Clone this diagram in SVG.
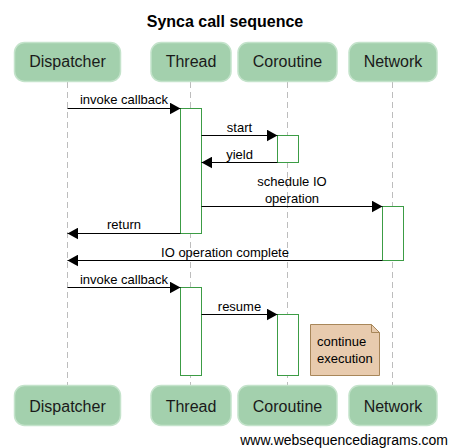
<svg xmlns="http://www.w3.org/2000/svg" width="449" height="448" viewBox="0 0 449 448">
<defs>
<style>
.actor rect{fill:#a3d0ad;stroke:#c4e3cb;stroke-width:1.5}
.actor text{font-family:"Liberation Sans",Arial,sans-serif;font-size:16px;fill:#1a1a1a;text-anchor:middle}
.life{stroke:#bdbdbd;stroke-width:1;stroke-dasharray:6,4;fill:none}
.act{fill:#ffffff;stroke:#3c9c45;stroke-width:1}
.msg{stroke:#000;stroke-width:1;fill:none;marker-end:url(#arr)}
.lbl{font-family:"Liberation Sans",Arial,sans-serif;font-size:13px;fill:#000;text-anchor:middle}
.note{fill:#e8cbae;stroke:#a8875a;stroke-width:1}
.ntxt{font-family:"Liberation Sans",Arial,sans-serif;font-size:13px;fill:#000}
</style>
<marker id="arr" markerUnits="userSpaceOnUse" markerWidth="11" markerHeight="12" viewBox="0 0 10 11" refX="10" refY="5.5" orient="auto">
<path d="M0,0 L10,5.5 L0,11 z" fill="#000"/>
</marker>
</defs>
<rect width="449" height="448" fill="#ffffff"/>
<text x="225" y="27" font-family="Liberation Sans,Arial,sans-serif" font-size="16" font-weight="bold" text-anchor="middle" fill="#000">Synca call sequence</text>
<g id="lifelines">
<line class="life" x1="67.5" y1="82" x2="67.5" y2="385"/>
<line class="life" x1="190.5" y1="82" x2="190.5" y2="385"/>
<line class="life" x1="287.5" y1="82" x2="287.5" y2="385"/>
<line class="life" x1="392.5" y1="82" x2="392.5" y2="385"/>
</g>
<g id="Dispatcher" class="actor">
<rect x="14.5" y="42.5" width="106" height="39" rx="10"/>
<text x="67.5" y="66.8">Dispatcher</text>
<rect x="14.5" y="385.5" width="106" height="40" rx="10"/>
<text x="67.5" y="411.5">Dispatcher</text>
</g>
<g id="Thread" class="actor">
<rect x="151" y="42.5" width="80" height="39" rx="10"/>
<text x="191" y="66.8">Thread</text>
<rect x="151" y="385.5" width="80" height="40" rx="10"/>
<text x="191" y="411.5">Thread</text>
</g>
<g id="Coroutine" class="actor">
<rect x="238" y="42.5" width="99" height="39" rx="10"/>
<text x="287.5" y="66.8">Coroutine</text>
<rect x="238" y="385.5" width="99" height="40" rx="10"/>
<text x="287.5" y="411.5">Coroutine</text>
</g>
<g id="Network" class="actor">
<rect x="349" y="42.5" width="88" height="39" rx="10"/>
<text x="393" y="66.8">Network</text>
<rect x="349" y="385.5" width="88" height="40" rx="10"/>
<text x="393" y="411.5">Network</text>
</g>
<g id="activations">
<rect class="act" x="180.5" y="108.5" width="21" height="125"/>
<rect class="act" x="277.5" y="135.5" width="21" height="27"/>
<rect class="act" x="382.5" y="206.5" width="21" height="54"/>
<rect class="act" x="180.5" y="287.5" width="21" height="88"/>
<rect class="act" x="277.5" y="314.5" width="21" height="61"/>
</g>
<g id="connectors">
<line class="msg" x1="67.5" y1="108.5" x2="180.5" y2="108.5"/>
<text class="lbl" x="124" y="104">invoke callback</text>
<line class="msg" x1="201.5" y1="135.5" x2="277.5" y2="135.5"/>
<text class="lbl" x="239.5" y="132">start</text>
<line class="msg" x1="277.5" y1="162.5" x2="201.5" y2="162.5"/>
<text class="lbl" x="239.5" y="159">yield</text>
<line class="msg" x1="201.5" y1="206.5" x2="382.5" y2="206.5"/>
<text class="lbl" x="292" y="185.5">schedule IO</text>
<text class="lbl" x="292" y="202.5">operation</text>
<line class="msg" x1="180.5" y1="233.5" x2="67.5" y2="233.5"/>
<text class="lbl" x="124" y="229">return</text>
<line class="msg" x1="382.5" y1="260.5" x2="67.5" y2="260.5"/>
<text class="lbl" x="225" y="256.5">IO operation complete</text>
<line class="msg" x1="67.5" y1="287.5" x2="180.5" y2="287.5"/>
<text class="lbl" x="124" y="283.5">invoke callback</text>
<line class="msg" x1="201.5" y1="314.5" x2="277.5" y2="314.5"/>
<text class="lbl" x="239.5" y="310.5">resume</text>
</g>
<g id="note">
<polygon class="note" points="310.5,324.5 371.5,324.5 379.5,332.5 379.5,375.5 310.5,375.5"/>
<polyline points="371.5,324.5 371.5,332.5 379.5,332.5" fill="none" stroke="#a8875a" stroke-width="1"/>
<text class="ntxt" x="317" y="346">continue</text>
<text class="ntxt" x="317" y="362.5">execution</text>
</g>
<text x="448" y="445" font-family="Liberation Sans,Arial,sans-serif" font-size="14" text-anchor="end" fill="#000">www.websequencediagrams.com</text>
</svg>
